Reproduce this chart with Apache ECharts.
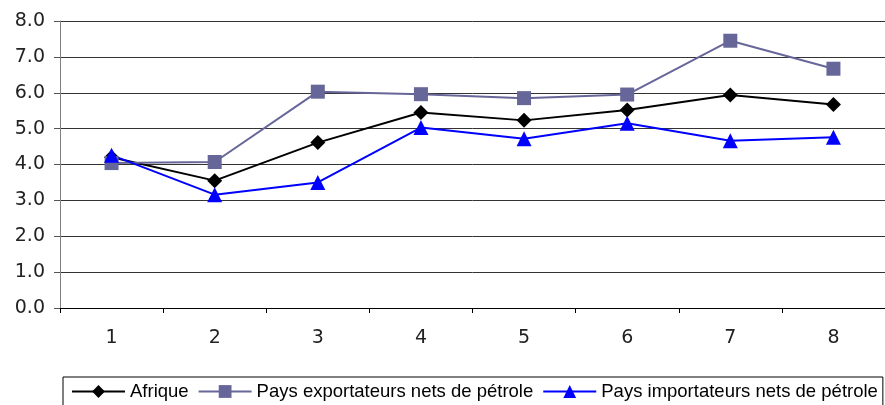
<!DOCTYPE html>
<html>
<head>
<meta charset="utf-8">
<script src="https://cdn.jsdelivr.net/npm/echarts@6/dist/echarts.min.js"></script>
<style>
  html, body { margin: 0; padding: 0; background: #fff; }
  #chart { width: 885px; height: 405px; }
</style>
</head>
<body>
<div id="chart"></div>
<script>
// catégories (années 1..8)
const categories = ['1', '2', '3', '4', '5', '6', '7', '8']

// séries
const afrique = [4.2, 3.55, 4.61, 5.45, 5.23, 5.52, 5.94, 5.67]
const exportateurs = [4.04, 4.07, 6.03, 5.96, 5.85, 5.95, 7.45, 6.67]
const importateurs = [4.26, 3.16, 3.5, 5.03, 4.72, 5.15, 4.66, 4.76]

const seriesNames = ['Afrique', 'Pays exportateurs nets de pétrole', 'Pays importateurs nets de pétrole']

const chart = echarts.init(document.getElementById('chart'))

const line = (name, data, color, symbol, size) => ({
  name,
  type: 'line',
  data,
  symbol,
  symbolSize: size,
  color,
  lineStyle: { color, width: 2 },
  itemStyle: { color },
  animation: false,
})

chart.setOption({
  backgroundColor: '#fff',
  grid: { left: 60, top: 21, width: 830, height: 287 },
  legend: {
    data: seriesNames,
    left: 63,
    top: 377,
    padding: [5, 5, 12, 8],
    borderColor: '#000',
    borderWidth: 1,
    itemWidth: 53,
    itemHeight: 16,
    itemGap: 9,
    textStyle: { fontFamily: 'Liberation Sans', fontSize: 18.5, color: '#000' },
  },
  xAxis: {
    type: 'category',
    data: categories,
    boundaryGap: true,
    axisLine: { lineStyle: { color: '#000', width: 1 } },
    axisTick: { show: true, alignWithLabel: false, length: 5, lineStyle: { color: '#000', width: 1 } },
    axisLabel: { margin: 21, fontFamily: 'DejaVu Sans', fontSize: 19, color: '#222' },
  },
  yAxis: {
    type: 'value',
    min: 0,
    max: 8,
    interval: 1,
    axisLine: { show: true, lineStyle: { color: '#808080', width: 1 } },
    axisTick: { show: true, length: 6, lineStyle: { color: '#555', width: 1 } },
    axisLabel: {
      margin: 15,
      fontFamily: 'DejaVu Sans',
      fontSize: 19,
      color: '#222',
      formatter: (v) => v.toFixed(1),
    },
    splitLine: { lineStyle: { color: '#333', width: 1 } },
  },
  series: [
    line(seriesNames[0], afrique, '#000000', 'diamond', 15),
    line(seriesNames[1], exportateurs, '#666699', 'rect', 14),
    line(seriesNames[2], importateurs, '#0000ff', 'triangle', 15),
  ],
})
</script>
</body>
</html>
